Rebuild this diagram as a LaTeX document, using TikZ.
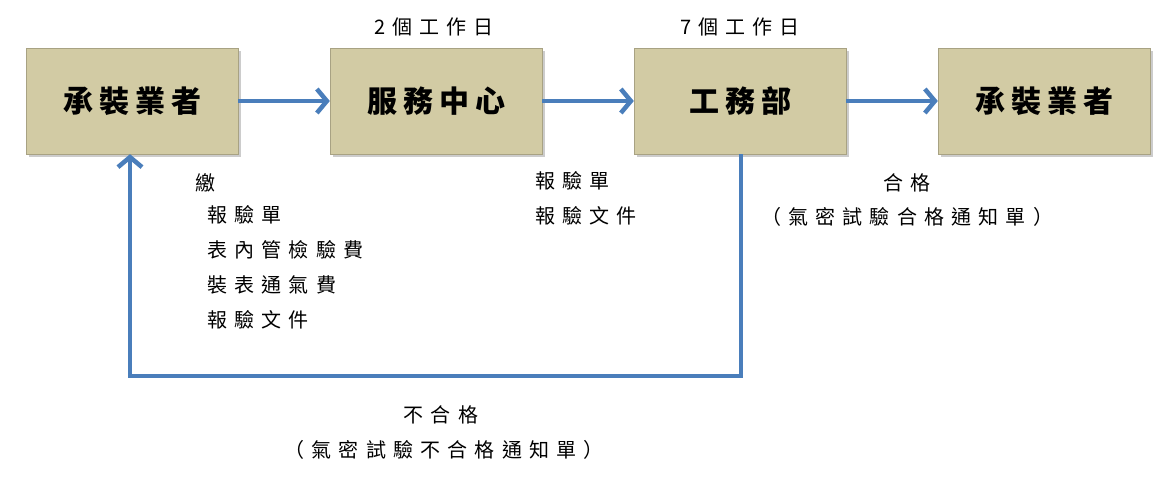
\documentclass[tikz,border=0pt]{standalone}
\usepackage{fontspec}
\setmainfont{Noto Sans CJK TC}
\newfontfamily\stagefont[LetterSpace=20]{Noto Sans CJK TC}
\newfontfamily\notefont[LetterSpace=36]{Noto Sans CJK TC}
\usetikzlibrary{arrows.meta,positioning,shadows}
\definecolor{boxtan}{HTML}{D2CBA4}
\definecolor{flowblue}{HTML}{4A7EBB}
\tikzset{
  stage/.style={draw=boxtan!80!black, fill=boxtan, minimum width=212pt, minimum height=106pt,
    font=\stagefont\fontsize{30}{32}\selectfont\bfseries, drop shadow={opacity=0.4}},
  flow/.style={flowblue, line width=4.5pt, -{Straight Barb[length=10pt,width=24pt,line width=4.5pt]}},
  note/.style={font=\notefont\fontsize{20}{22}\selectfont, inner sep=0pt}
}
\begin{document}
\begin{tikzpicture}[x=1pt,y=-1pt]
    \useasboundingbox (0,0) rectangle (1166,478);

    % stages
    \node[stage] (s1) at (132,101) {承裝業者};
    \node[stage] (s2) at (436,101) {服務中心};
    \node[stage] (s3) at (740,101) {工務部};
    \node[stage] (s4) at (1044,101) {承裝業者};

    % flow
    \draw[flow] (s1) -- (s2);
    \draw[flow] (s2) -- (s3);
    \draw[flow] (s3) -- (s4);
    \coordinate (r1) at (741,376);
    \coordinate (r2) at (130,376);
    \draw[flow] (s3.south -| r1) -- (r1) -- (r2) -- (s1.south -| r2);

    % labels
    \node[note] (d2) at (434,27) {2個工作日};
    \node[note] (d3) at (740,27) {7個工作日};
    \node[note, anchor=west] (pay) at (195,183) {繳};
    \node[note, anchor=north west, align=left, font=\notefont\fontsize{20}{35}\selectfont] (paylist) at (207,205)
      {報驗單\\表內管檢驗費\\裝表通氣費\\報驗文件};
    \node[note, anchor=north west, align=left, font=\notefont\fontsize{20}{35}\selectfont] (docs) at (535,171)
      {報驗單\\報驗文件};
    \node[note] (ok) at (907,183) {合格};
    \node[note] (okdoc) at (907,217) {（氣密試驗合格通知單）};
    \node[note] (ng) at (441,415) {不合格};
    \node[note] (ngdoc) at (444,450) {（氣密試驗不合格通知單）};
\end{tikzpicture}
\end{document}
